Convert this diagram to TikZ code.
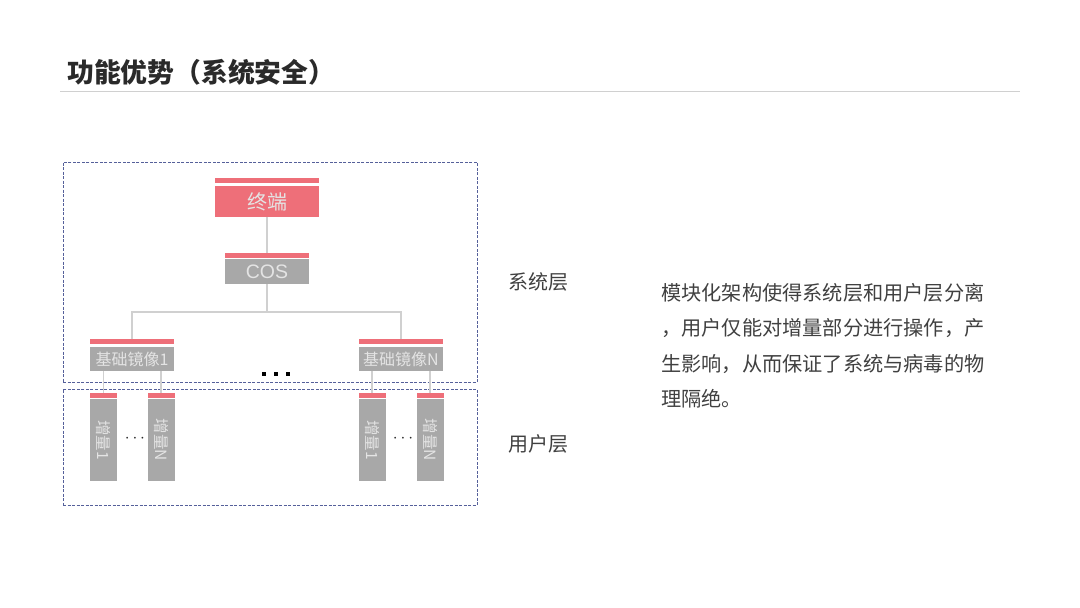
\documentclass[tikz,border=0pt]{standalone}
\usepackage{fontspec}
\setmainfont{Noto Sans CJK SC}
\newfontfamily\latinsans{Liberation Sans}
\definecolor{redc}{HTML}{EE6F79}
\definecolor{gryc}{HTML}{A8A8A8}
\definecolor{boxtxt}{HTML}{E4E4E4}
\definecolor{linec}{HTML}{D0D0D0}
\definecolor{dashc}{HTML}{55609A}
\definecolor{txtc}{HTML}{404040}
\definecolor{titc}{HTML}{2A2A2A}
\tikzset{
  box/.style={fill=gryc, inner sep=0pt, text=boxtxt},
  redbox/.style={fill=redc, inner sep=0pt, text=boxtxt},
  bar/.style={fill=redc, inner sep=0pt, minimum height=5pt},
  conn/.style={draw=linec, line width=1.5pt},
  layer/.style={draw=dashc, line width=0.9pt, dash pattern=on 3pt off 1.5pt},
  lbl/.style={text=txtc, font=\fontsize{20}{22}\selectfont, inner sep=0pt},
  para/.style={text=txtc, font=\fontsize{20.2}{22}\selectfont, inner sep=0pt, anchor=west},
  dotsq/.style={fill=black, inner sep=0pt, minimum size=3.2pt},
}
\begin{document}
\begin{tikzpicture}[x=1pt,y=-1pt]
\useasboundingbox (0,0) rectangle (1080,608);
% title
\node[anchor=west, inner sep=0pt, text=titc, font=\fontsize{26.8}{30}\selectfont\bfseries] (title) at (67,72) {功能优势（系统安全）};
\coordinate (tl1) at (60,91);
\coordinate (tl2) at (1020,91);
\draw[draw=linec, line width=1pt] (tl1) -- (tl2);

% layer boxes
\node[layer, minimum width=414pt, minimum height=220pt, inner sep=0pt] (sys) at (270,272) {};
\node[layer, minimum width=414pt, minimum height=116pt, inner sep=0pt] (usr) at (270,447) {};

% terminal
\node[bar, minimum width=104pt] (tbar) at (267,180.5) {};
\node[redbox, minimum width=104pt, minimum height=31pt, font=\fontsize{20}{22}\selectfont] (term) at (267,201.5) {终端};
% COS
\node[bar, minimum width=84pt] (cbar) at (267,255.5) {};
\node[box, minimum width=84pt, minimum height=25pt, font=\latinsans\fontsize{19.5}{21}\selectfont] (cos) at (267,271.5) {COS};
% base images
\node[bar, minimum width=84pt] (b1bar) at (132,341.5) {};
\node[box, minimum width=84pt, minimum height=24pt, font=\fontsize{16}{17}\selectfont] (b1) at (132,359) {基础镜像1};
\node[bar, minimum width=84pt] (bnbar) at (401,341.5) {};
\node[box, minimum width=84pt, minimum height=24pt, font=\fontsize{16}{17}\selectfont] (bn) at (401,359) {基础镜像N};

% increments
\foreach \nm/\xx/\tx in {z11/103.5/增量1, z1n/161/增量N, zn1/372/增量1, znn/430/增量N}{
  \node[bar, minimum width=27pt] (\nm bar) at (\xx,395.5) {};
  \node[box, minimum width=27pt, minimum height=82pt] (\nm) at (\xx,440) {};
  \node[rotate=-90, text=boxtxt, inner sep=0pt, font=\fontsize{15.5}{17}\selectfont] (\nm t) at (\xx,440) {\tx};
}

% connectors
\draw[conn] (term.south) -- (cbar.north);
\coordinate (jc) at (267,312);
\coordinate (jl) at (132,312);
\coordinate (jr) at (401,312);
\draw[conn] (cos.south) -- (jc);
\draw[conn] (b1bar.north) -- (jl) -- (jr) -- (bnbar.north);
\draw[conn] (z11bar.north) -- (z11bar.north |- b1.south);
\draw[conn] (z1nbar.north) -- (z1nbar.north |- b1.south);
\draw[conn] (zn1bar.north) -- (zn1bar.north |- bn.south);
\draw[conn] (znnbar.north) -- (znnbar.north |- bn.south);

% dots
\node[dotsq] (d1) at (264,374) {};
\node[dotsq] (d2) at (276,374) {};
\node[dotsq] (d3) at (288,374) {};
\node[text=titc, inner sep=0pt, font=\fontsize{18}{18}\selectfont] (e1) at (135,439) {$\cdots$};
\node[text=titc, inner sep=0pt, font=\fontsize{18}{18}\selectfont] (e2) at (403,439) {$\cdots$};

% layer labels
\node[lbl, anchor=west] (l1) at (508,282) {系统层};
\node[lbl, anchor=west] (l2) at (508,444) {用户层};

% paragraph
\node[para] (p1) at (661,293) {模块化架构使得系统层和用户层分离};
\node[para] (p2) at (661,328) {，用户仅能对增量部分进行操作，产};
\node[para] (p3) at (661,364) {生影响，从而保证了系统与病毒的物};
\node[para] (p4) at (661,399) {理隔绝。};
\end{tikzpicture}
\end{document}
